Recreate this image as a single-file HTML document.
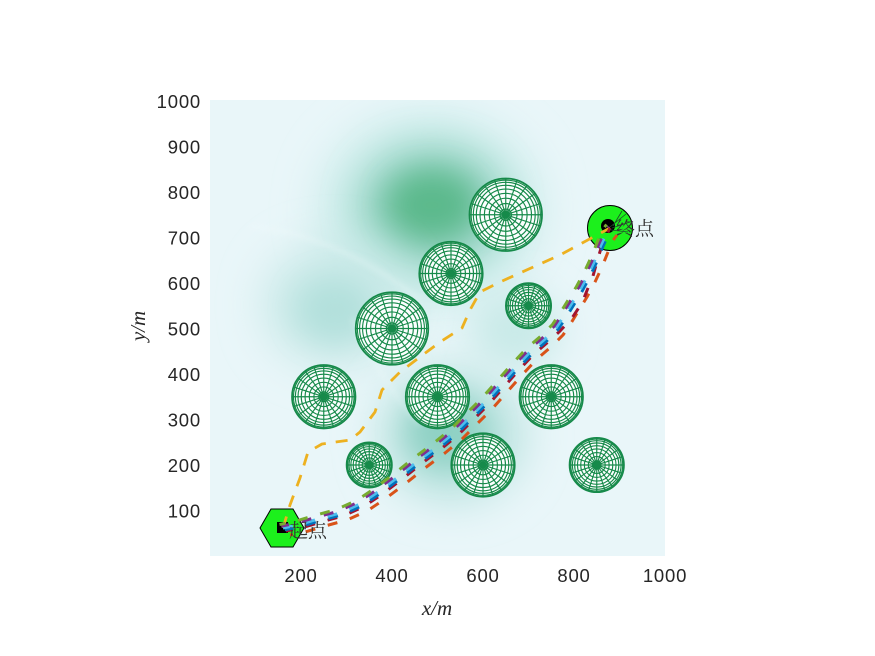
<!DOCTYPE html>
<html>
<head>
<meta charset="utf-8">
<style>
  html,body{margin:0;padding:0;background:#fff;}
  body{width:875px;height:656px;overflow:hidden;}
  svg{display:block;}
  .tk{font-family:"Liberation Sans",Arial,sans-serif;font-size:18.5px;fill:#262626;letter-spacing:0.8px;}
  .al{font-family:"Liberation Serif","Times New Roman",serif;font-style:italic;font-size:21px;fill:#262626;}
  .cj{font-family:"Liberation Serif","Noto Serif CJK SC","Noto Sans CJK SC",serif;font-size:19px;fill:#333;}
</style>
</head>
<body>
<svg width="875" height="656" viewBox="0 0 875 656" xmlns="http://www.w3.org/2000/svg">
  <defs>
    <clipPath id="pc"><rect x="210" y="100" width="455" height="456"/></clipPath>
    <filter id="b22" x="-60%" y="-60%" width="220%" height="220%"><feGaussianBlur stdDeviation="22"/></filter>
    <filter id="b18" x="-60%" y="-60%" width="220%" height="220%"><feGaussianBlur stdDeviation="18"/></filter>
    <filter id="b14" x="-60%" y="-60%" width="220%" height="220%"><feGaussianBlur stdDeviation="14"/></filter>
    <filter id="b3" x="-20%" y="-20%" width="140%" height="140%"><feGaussianBlur stdDeviation="3"/></filter>
    <g id="sph">
      <circle r="1" fill="#fbfefe" stroke="#168a4a" stroke-width="1.5" vector-effect="non-scaling-stroke"/>
      <g fill="none" stroke="#168a4a" stroke-width="1.15" vector-effect="non-scaling-stroke">
        <circle r="0.988" vector-effect="non-scaling-stroke"/>
        <circle r="0.951" vector-effect="non-scaling-stroke"/>
        <circle r="0.891" vector-effect="non-scaling-stroke"/>
        <circle r="0.809" vector-effect="non-scaling-stroke"/>
        <circle r="0.707" vector-effect="non-scaling-stroke"/>
        <circle r="0.588" vector-effect="non-scaling-stroke"/>
        <circle r="0.454" vector-effect="non-scaling-stroke"/>
        <circle r="0.309" vector-effect="non-scaling-stroke"/>
        <circle r="0.156" vector-effect="non-scaling-stroke"/>
        <path vector-effect="non-scaling-stroke" d="M1 0L-1 0M.9511 .309L-.9511 -.309M.809 .5878L-.809 -.5878M.5878 .809L-.5878 -.809M.309 .9511L-.309 -.9511M0 1L0 -1M-.309 .9511L.309 -.9511M-.5878 .809L.5878 -.809M-.809 .5878L.809 -.5878M-.9511 .309L.9511 -.309"/>
      </g>
      <circle r="0.1" fill="#168a4a"/>
    </g>
    <polyline id="rt" points="283,528 298,525 318,519 340,513 360,504 378,492 398,477 418,461 438,446 455,432 470,417 485,402 500,385 515,368 530,352 545,339 556,328 564,316 572,303 580,290 588,275 595,260 601,245 607,232 610,228"/>
  </defs>

  <!-- background field -->
  <g clip-path="url(#pc)">
    <rect x="210" y="100" width="455" height="456" fill="#e9f6f9"/>
    <ellipse cx="430" cy="210" rx="110" ry="95" fill="#c8ebe8" filter="url(#b22)"/>
    <ellipse cx="432" cy="207" rx="72" ry="60" fill="#8fd0bd" filter="url(#b18)"/>
    <ellipse cx="432" cy="205" rx="44" ry="34" fill="#5cb98c" filter="url(#b14)"/>
    <ellipse cx="335" cy="305" rx="70" ry="60" fill="#c6e8e6" filter="url(#b22)"/>
    <ellipse cx="335" cy="310" rx="36" ry="30" fill="#b2e0dc" filter="url(#b14)"/>
    <ellipse cx="452" cy="435" rx="72" ry="66" fill="#b8e2de" filter="url(#b22)"/>
    <ellipse cx="447" cy="432" rx="40" ry="36" fill="#8fd1c4" filter="url(#b14)"/>
    <ellipse cx="515" cy="330" rx="45" ry="40" fill="#c9eae8" filter="url(#b18)"/>
    <path d="M250 226 Q340 236 420 300" fill="none" stroke="#f3fbfc" stroke-width="4" opacity="0.35" filter="url(#b3)"/>
    <path d="M352 318 Q380 380 420 425" fill="none" stroke="#f3fbfc" stroke-width="3" opacity="0.35" filter="url(#b3)"/>
  </g>

  <!-- obstacles -->
  <use href="#sph" transform="translate(505.75 214.75) scale(36.4)"/>
  <use href="#sph" transform="translate(451 273.5) scale(31.85)"/>
  <use href="#sph" transform="translate(528.5 305.75) scale(22.75)"/>
  <use href="#sph" transform="translate(392 328.5) scale(36.4)"/>
  <use href="#sph" transform="translate(323.75 396.75) scale(31.85)"/>
  <use href="#sph" transform="translate(437.5 396.75) scale(31.85)"/>
  <use href="#sph" transform="translate(551.25 396.75) scale(31.85)"/>
  <use href="#sph" transform="translate(369.25 465) scale(22.75)"/>
  <use href="#sph" transform="translate(483 465) scale(31.85)"/>
  <use href="#sph" transform="translate(596.75 465) scale(27.3)"/>

  <!-- start / end markers -->
  <polygon points="304,528 293,547 271,547 260,528 271,509 293,509" fill="#1cf01c" stroke="#000" stroke-width="1"/>
  <rect x="277" y="522" width="11" height="11" fill="#000"/>
  <circle cx="610" cy="228" r="22.5" fill="#1cf01c" stroke="#000" stroke-width="1"/>
  <circle cx="608" cy="226" r="7" fill="#000"/>

  <!-- paths -->
  <g fill="none" stroke-width="3" stroke-linejoin="round">
    <polyline stroke="#EDB120" stroke-width="2.8" stroke-dasharray="12 10" points="283,528 290,505 300,478 308,452 322,444 350,440 360,432 375,412 382,390 400,372 440,342 462,328 470,310 480,292 500,282 560,255 610,228"/>
    <g stroke-dasharray="10 13">
      <use href="#rt" stroke="#D95319" stroke-dashoffset="7" transform="translate(7 7)"/>
      <polyline stroke="#A2142F" stroke-dashoffset="3" points="286,531 301,528 321,522 343,516 363,507 381,495 401,480 421,464 441,449 458,435 473,420 488,405 503,388 518,371 533,355 548,342 560,331 572,318 582,303 588,288 593,276 598,258 603,242 608,232 610,228"/>
      <use href="#rt" stroke="#0072BD" stroke-dashoffset="1" transform="translate(1.8 1.8)"/>
      <use href="#rt" stroke="#4DBEEE" stroke-dashoffset="0"/>
      <use href="#rt" stroke="#7E2F8E" stroke-dashoffset="2" transform="translate(-1.8 -1.8)"/>
      <use href="#rt" stroke="#77AC30" stroke-dashoffset="4" transform="translate(-3.5 -3.5)"/>
    </g>
  </g>

  <!-- scratchy lines near end label -->
  <g stroke="#1d4a2a" stroke-width="0.8" fill="none">
    <path d="M610 227 L626 214 M612 228 L630 222 M611 230 L628 232 M613 226 L622 211"/>
  </g>

  <!-- labels -->
  <text class="cj" x="616" y="235">终点</text>
  <text class="cj" x="289" y="537">起点</text>

  <!-- y ticks -->
  <g class="tk" text-anchor="end">
    <text x="201" y="108">1000</text>
    <text x="201" y="153.5">900</text>
    <text x="201" y="199">800</text>
    <text x="201" y="244.5">700</text>
    <text x="201" y="290">600</text>
    <text x="201" y="335.5">500</text>
    <text x="201" y="381">400</text>
    <text x="201" y="426.5">300</text>
    <text x="201" y="472">200</text>
    <text x="201" y="517.5">100</text>
  </g>
  <!-- x ticks -->
  <g class="tk" text-anchor="middle">
    <text x="301" y="582">200</text>
    <text x="392" y="582">400</text>
    <text x="483" y="582">600</text>
    <text x="574" y="582">800</text>
    <text x="665" y="582">1000</text>
  </g>

  <text class="al" x="437" y="615" text-anchor="middle">x/m</text>
  <text class="al" transform="translate(145 326) rotate(-90)" text-anchor="middle">y/m</text>
</svg>
</body>
</html>
